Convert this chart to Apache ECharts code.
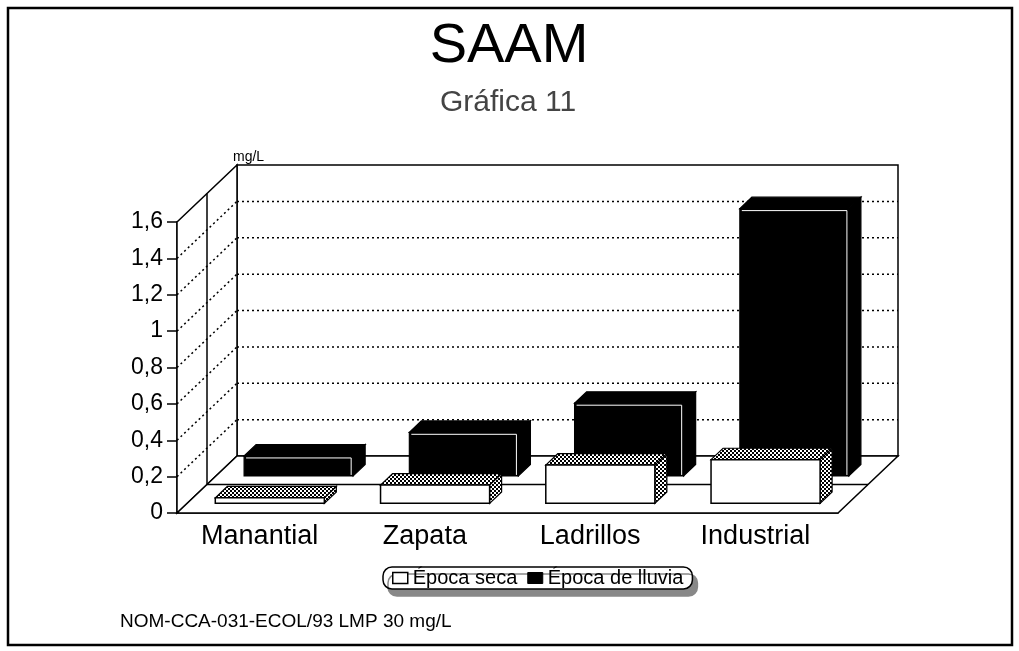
<!DOCTYPE html>
<html>
<head>
<meta charset="utf-8">
<title>SAAM - Gráfica 11</title>
<script src="https://cdn.jsdelivr.net/npm/echarts@6/dist/echarts.min.js"></script>
<style>
  html, body { margin: 0; padding: 0; background: #fff; }
  #chart { width: 1019px; height: 651px; }
</style>
</head>
<body>
<div id="chart"></div>
<script>
// valores (mg/L)
var categorias = ["Manantial", "Zapata", "Ladrillos", "Industrial"];
var epocaSeca = [0.03, 0.1, 0.21, 0.24];
var epocaLluvia = [0.11, 0.24, 0.4, 1.47];
var ticksY = [0.2, 0.4, 0.6, 0.8, 1.0, 1.2, 1.4];

var FONT = "Liberation Sans, Arial, sans-serif";
// oblique offset from the front plane to the back wall
var DX = 60, DY = -57;

// checker pattern used on the dry-season bars
var patCanvas = document.createElement("canvas");
patCanvas.width = 4;
patCanvas.height = 4;
var pctx = patCanvas.getContext("2d");
pctx.fillStyle = "#fff";
pctx.fillRect(0, 0, 4, 4);
pctx.fillStyle = "#000";
pctx.fillRect(0, 0, 2, 2);
pctx.fillRect(2, 2, 2, 2);
var checker = { image: patCanvas, repeat: "repeat" };

var black = { stroke: "#000", lineWidth: 1.5 };

function renderWalls(params, api) {
  var cs = params.coordSys;
  var L = cs.x, R = cs.x + cs.width, T = cs.y, B = cs.y + cs.height;
  return {
    type: "group",
    children: [
      {
        type: "polygon",
        shape: { points: [[L + DX, T + DY], [R + DX, T + DY], [R + DX, B + DY], [L + DX, B + DY]] },
        style: { fill: "#fff", stroke: "#000", lineWidth: 1.5 }
      },
      {
        type: "polygon",
        shape: { points: [[L, T], [L + DX, T + DY], [L + DX, B + DY], [L, B]] },
        style: { fill: "#fff", stroke: "#000", lineWidth: 1.5 }
      },
      {
        type: "polygon",
        shape: { points: [[L, B], [R, B], [R + DX, B + DY], [L + DX, B + DY]] },
        style: { fill: "#fff", stroke: "#000", lineWidth: 1.5 }
      },
      // division between the two series rows
      {
        type: "line",
        shape: { x1: L + DX / 2, y1: T + DY / 2, x2: L + DX / 2, y2: B + DY / 2 },
        style: black
      },
      {
        type: "line",
        shape: { x1: L + DX / 2, y1: B + DY / 2, x2: R + DX / 2, y2: B + DY / 2 },
        style: black
      }
    ]
  };
}

function renderGrid(params, api) {
  var cs = params.coordSys;
  var y = api.coord([0, api.value(1)])[1];
  var dot = { stroke: "#000", lineWidth: 1.5, lineDash: [2, 3] };
  return {
    type: "group",
    children: [
      { type: "line", shape: { x1: cs.x + DX, y1: y + DY, x2: cs.x + cs.width + DX, y2: y + DY }, style: dot },
      { type: "line", shape: { x1: cs.x, y1: y, x2: cs.x + DX, y2: y + DY }, style: dot }
    ]
  };
}

function barRender(row) {
  return function (params, api) {
    var idx = api.value(0);
    var base = api.coord([idx, 0]);
    var top = api.coord([idx, api.value(1)]);
    var bw = api.size([1, 0])[0] * 0.66;
    var f = row === 0 ? 0.17 : 0.65;
    var ox = DX * 0.2, oy = DY * 0.2;
    var x0 = base[0] - bw / 2 + DX * f, x1 = x0 + bw;
    var yb = base[1] + DY * f, yt = top[1] + DY * f;
    var topFace = [[x0, yt], [x1, yt], [x1 + ox, yt + oy], [x0 + ox, yt + oy]];
    var sideFace = [[x1, yt], [x1 + ox, yt + oy], [x1 + ox, yb + oy], [x1, yb]];
    var front = { x: x0, y: yt, width: bw, height: yb - yt };
    if (row === 0) {
      return {
        type: "group",
        children: [
          { type: "polygon", shape: { points: topFace }, style: { fill: checker, stroke: "#000", lineWidth: 1.2 } },
          { type: "polygon", shape: { points: sideFace }, style: { fill: checker, stroke: "#000", lineWidth: 1.2 } },
          { type: "rect", shape: front, style: { fill: "#fff", stroke: "#000", lineWidth: 1.5 } }
        ]
      };
    }
    return {
      type: "group",
      children: [
        { type: "polygon", shape: { points: topFace }, style: { fill: "#000", stroke: "#000", lineWidth: 1.2 } },
        { type: "polygon", shape: { points: sideFace }, style: { fill: "#000", stroke: "#000", lineWidth: 1.2 } },
        { type: "rect", shape: front, style: { fill: "#000", stroke: "#000", lineWidth: 1.2 } },
        {
          type: "polyline",
          shape: { points: [[x0 + 2, yt + 2], [x1 - 2, yt + 2], [x1 - 2, yb - 1]] },
          style: { stroke: "#fff", lineWidth: 1, fill: null }
        }
      ]
    };
  };
}

var myChart = echarts.init(document.getElementById("chart"));
var option = {
  animation: false,
  backgroundColor: "#fff",
  textStyle: { fontFamily: FONT },
  grid: { left: 177, top: 222, width: 661, height: 291 },
  xAxis: {
    type: "category",
    data: categorias,
    axisLine: { lineStyle: { color: "#000", width: 1.5 } },
    axisTick: { show: false },
    axisLabel: { color: "#000", fontSize: 27, fontFamily: FONT, margin: 10 }
  },
  yAxis: {
    type: "value",
    min: 0,
    max: 1.6,
    interval: 0.2,
    axisLine: { show: true, lineStyle: { color: "#000", width: 1.5 } },
    axisTick: { show: true, length: 10, lineStyle: { color: "#000", width: 1.5 } },
    splitLine: { show: false },
    axisLabel: {
      color: "#000",
      fontSize: 23,
      fontFamily: FONT,
      margin: 14,
      formatter: function (v) {
        return String(Math.round(v * 10) / 10).replace(".", ",");
      }
    }
  },
  legend: {
    data: [
      { name: "Época seca", itemStyle: { color: "#fff", borderColor: "#000", borderWidth: 1.5 } },
      { name: "Época de lluvia", itemStyle: { color: "#000", borderColor: "#000", borderWidth: 1 } }
    ],
    icon: "rect",
    selectedMode: false,
    left: 383,
    top: 567,
    itemWidth: 15,
    itemHeight: 11,
    itemGap: 10,
    padding: [1, 9],
    borderColor: "#000",
    borderWidth: 1.5,
    borderRadius: 9,
    backgroundColor: "#fff",
    shadowColor: "#888",
    shadowBlur: 0,
    shadowOffsetX: 5,
    shadowOffsetY: 7,
    textStyle: { color: "#000", fontSize: 20, fontFamily: FONT }
  },
  graphic: [
    {
      type: "rect",
      shape: { x: 8, y: 8, width: 1004, height: 637 },
      style: { fill: "none", stroke: "#000", lineWidth: 2.5 }
    },
    {
      type: "text", x: 509, y: 47,
      style: { text: "SAAM", fontSize: 56, fontFamily: FONT, fill: "#000", align: "center", verticalAlign: "middle", textAlign: "center", textVerticalAlign: "middle" }
    },
    {
      type: "text", x: 508, y: 103,
      style: { text: "Gráfica 11", fontSize: 30, fontFamily: FONT, fill: "#444", align: "center", verticalAlign: "middle", textAlign: "center", textVerticalAlign: "middle" }
    },
    {
      type: "text", x: 233, y: 157,
      style: { text: "mg/L", fontSize: 14, fontFamily: FONT, fill: "#000", align: "left", verticalAlign: "middle", textAlign: "left", textVerticalAlign: "middle" }
    },
    {
      type: "text", x: 120, y: 622,
      style: { text: "NOM-CCA-031-ECOL/93 LMP 30 mg/L", fontSize: 19, fontFamily: FONT, fill: "#000", align: "left", verticalAlign: "middle", textAlign: "left", textVerticalAlign: "middle" }
    }
  ],
  series: [
    { type: "custom", name: "paredes", silent: true, z: 1, data: [[0, 0]], renderItem: renderWalls },
    {
      type: "custom", name: "rejilla", silent: true, z: 2,
      data: ticksY.map(function (t) { return [0, t]; }),
      renderItem: renderGrid
    },
    {
      type: "custom", name: "Época de lluvia", z: 3,
      itemStyle: { color: "#000" },
      data: epocaLluvia.map(function (v, i) { return [i, v]; }),
      renderItem: barRender(1)
    },
    {
      type: "custom", name: "Época seca", z: 4,
      itemStyle: { color: "#fff" },
      data: epocaSeca.map(function (v, i) { return [i, v]; }),
      renderItem: barRender(0)
    }
  ]
};
myChart.setOption(option);
</script>
</body>
</html>
